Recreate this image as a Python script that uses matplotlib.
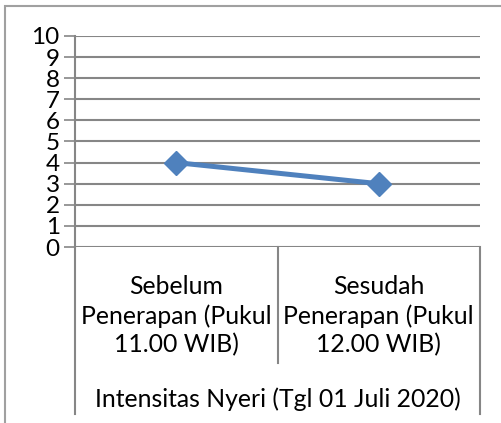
import numpy as np
import matplotlib.pyplot as plt
from matplotlib.patches import Rectangle

# data
categories = ["Sebelum\nPenerapan (Pukul\n11.00 WIB)", "Sesudah\nPenerapan (Pukul\n12.00 WIB)"]
values = [4, 3]
group_label = "Intensitas Nyeri (Tgl 01 Juli 2020)"
yticks = list(range(0, 11))

W, H = 501, 423
plt.rcParams['font.family'] = ['Lato', 'DejaVu Sans']
fig = plt.figure(figsize=(W / 100, H / 100), dpi=100)

# outer chart border (cropped at right/bottom)
fig.patches.append(Rectangle((5 / W, -0.1), 2, 1 - 6 / H + 0.1, transform=fig.transFigure,
                             fill=False, edgecolor='#a0a0a0', linewidth=1.5))

ax = fig.add_axes([75 / W, 1 - 247 / H, (480 - 75) / W, (247 - 36) / H])
grid_col = '#868686'

x = np.arange(len(values))
ax.plot(x, values, color='#4f81bd', linewidth=3.6, marker='D', markersize=12, zorder=5)

ax.set_xlim(-0.5, len(values) - 0.5)
ax.set_ylim(0, 10)
ax.set_yticks(yticks)
ax.set_yticklabels([str(t) for t in yticks])
ax.tick_params(axis='y', length=8, color=grid_col, width=1.2, pad=3, labelsize=17.5)
ax.set_xticks([])
for s in ['top', 'right', 'bottom']:
    ax.spines[s].set_visible(False)
ax.spines['left'].set_color(grid_col)
ax.spines['left'].set_linewidth(1.5)
for y in yticks:
    ax.axhline(y, color=grid_col, linewidth=1.5, zorder=1)

# multi-level category axis
trans = ax.get_xaxis_transform()
ax.plot([-0.5, -0.5], [0, -0.79], transform=trans, color=grid_col, lw=1.5, clip_on=False)
ax.plot([1.5, 1.5], [0, -0.79], transform=trans, color=grid_col, lw=1.5, clip_on=False)
ax.plot([0.5, 0.5], [0, -0.55], transform=trans, color=grid_col, lw=1.5, clip_on=False)

for i, lab in enumerate(categories):
    ax.text(i, -(316 - 247) / 211, lab, transform=trans, ha='center', va='center',
            fontsize=17.8, linespacing=1.3, color='black')
ax.text(0.5, -(399 - 247) / 211, group_label, transform=trans, ha='center', va='center',
        fontsize=17.8, color='black')

fig.savefig('out.png', dpi=100)
